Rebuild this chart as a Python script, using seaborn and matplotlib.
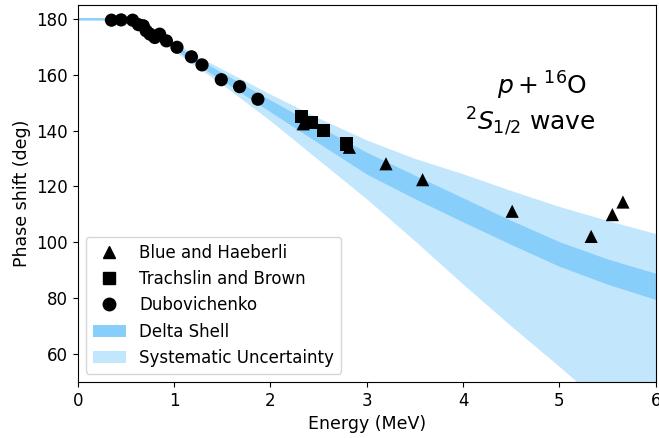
import numpy as np
import pandas as pd
from matplotlib import pyplot as plt
from matplotlib.patches import Patch
from matplotlib.lines import Line2D
import seaborn as sns

# measured phase shifts (MeV, deg)
blue_energy = [2.34, 2.82, 3.20, 3.58, 4.51, 5.33, 5.55, 5.66]
blue_phase = [142.4, 134.0, 128.1, 122.4, 111.1, 102.1, 109.9, 114.4]

trachslin_energy = [2.32, 2.43, 2.55, 2.79]
trachslin_phase = [145.0, 143.0, 140.0, 135.2]

dubovichenko_energy = [0.35, 0.45, 0.57, 0.63, 0.68, 0.71, 0.75, 0.80, 0.85, 0.92,
                       1.03, 1.18, 1.29, 1.49, 1.68, 1.87]
dubovichenko_phase = [179.5, 179.6, 179.5, 177.9, 177.5, 175.7, 174.5, 173.3, 174.5, 172.1,
                      169.8, 166.4, 163.5, 158.2, 155.7, 151.2]

# delta shell band and systematic uncertainty band
band_energy = [0.0, 0.25, 0.5, 0.75, 1.0, 1.25, 1.5, 2.0, 2.5, 3.0, 3.5, 4.0, 4.5, 5.0, 5.5, 6.0]
delta_upper = [180.4, 180.4, 179.8, 176.1, 170.8, 165.6, 160.7, 150.9, 141.5, 132.2,
               124.0, 115.9, 107.8, 100.2, 94.0, 88.9]
delta_lower = [179.6, 179.6, 178.8, 174.9, 169.2, 163.4, 157.9, 146.7, 135.5, 124.4,
               115.6, 107.3, 99.2, 91.4, 85.0, 79.5]
syst_upper = [180.4, 180.4, 180.0, 177.0, 171.5, 166.5, 162.0, 153.0, 144.5, 136.6,
              130.0, 124.5, 118.5, 112.8, 107.8, 103.1]
syst_lower = [179.6, 179.6, 178.5, 174.0, 168.5, 162.5, 156.5, 143.5, 129.5, 115.5,
              100.5, 85.0, 70.0, 55.5, 40.5, 25.5]

band_color = '#87CEFA'

data = pd.concat([
    pd.DataFrame({'energy': blue_energy, 'phase': blue_phase, 'source': 'Blue and Haeberli'}),
    pd.DataFrame({'energy': trachslin_energy, 'phase': trachslin_phase, 'source': 'Trachslin and Brown'}),
    pd.DataFrame({'energy': dubovichenko_energy, 'phase': dubovichenko_phase, 'source': 'Dubovichenko'}),
], ignore_index=True)
markers = {'Blue and Haeberli': '^', 'Trachslin and Brown': 's', 'Dubovichenko': 'o'}

fig, ax = plt.subplots(figsize=(6.59, 4.38), dpi=100)
plt.subplots_adjust(left=0.118, right=0.995, top=0.989, bottom=0.128)

ax.fill_between(band_energy, syst_lower, syst_upper, color=band_color, alpha=0.5, lw=0)
ax.fill_between(band_energy, delta_lower, delta_upper, color=band_color, alpha=1.0, lw=0)

for source, marker in markers.items():
    subset = data[data['source'] == source]
    sns.scatterplot(data=subset, x='energy', y='phase', marker=marker, color='black',
                    s=90, edgecolor='none', ax=ax, legend=False, zorder=3)

ax.set_xlim(0, 6)
ax.set_ylim(50, 185)
ax.set_xlabel('Energy (MeV)', fontsize=12.5)
ax.set_ylabel('Phase shift (deg)', fontsize=12.5)
ax.tick_params(labelsize=12)

ax.text(4.82, 156.1, r'$p + {}^{16}$O', fontsize=18, ha='center', va='center')
ax.text(4.70, 143.2, r'$^{2}S_{1/2}$ wave', fontsize=18, ha='center', va='center')

handles = [
    Line2D([], [], marker='^', color='black', ls='none', markersize=9),
    Line2D([], [], marker='s', color='black', ls='none', markersize=8),
    Line2D([], [], marker='o', color='black', ls='none', markersize=9),
    Patch(facecolor=band_color, alpha=1.0),
    Patch(facecolor=band_color, alpha=0.5),
]
labels = list(markers.keys()) + ['Delta Shell', 'Systematic Uncertainty']
ax.legend(handles, labels, loc='lower left', fontsize=12)

plt.savefig('out.png', dpi=100)
